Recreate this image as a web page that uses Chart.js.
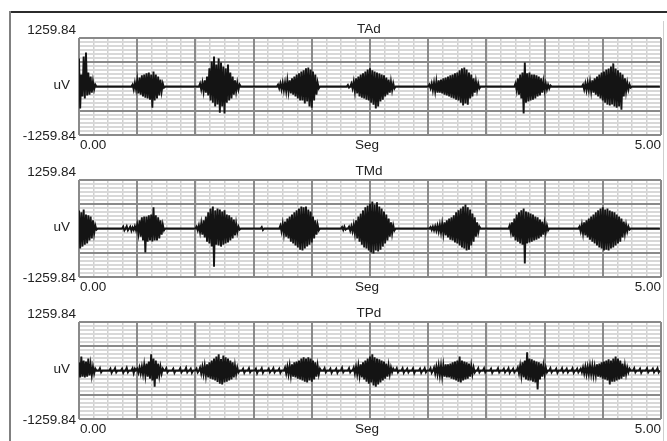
<!DOCTYPE html>
<html><head><meta charset="utf-8">
<script src="https://cdn.jsdelivr.net/npm/chart.js@4.4.1/dist/chart.umd.min.js"></script>
<style>
html,body{margin:0;padding:0;background:#fff;}
body{width:667px;height:441px;position:relative;overflow:hidden;font-family:"Liberation Sans",Arial,sans-serif;}
.lbl{position:absolute;font-size:13.5px;line-height:16px;height:16px;color:#222;white-space:nowrap;}
canvas{position:absolute;}
.frame{position:absolute;}
</style></head><body>
<div class="frame" style="left:9px;top:11px;width:658px;height:2px;background:#2b2b2b"></div>
<div class="frame" style="left:9px;top:11px;width:2px;height:430px;background:#808080"></div>
<div class="frame" style="left:663px;top:21px;width:1px;height:420px;background:#cfcfcf"></div>
<script>
// ---- data (uV, one sample every 0.01 s, 500 samples per channel) ----
const STEP = 0.01;
const panelNames = ["TAd", "TMd", "TPd"];
const yTickLabels = ["1259.84", "-1259.84"];
const xTickLabels = ["0.00", "5.00"];
const yAxisLabel = "uV";
const xAxisLabel = "Seg";
const Y_MAX = 1259.84;
const X_MIN = 0, X_MAX = 5;

const TAd = [
730,-570,310,-260,780,-310,880,-230,360,-210,
260,-160,130,-80,50,0,0,0,0,0,
0,0,0,0,0,0,0,0,0,0,
0,0,0,0,0,0,0,0,0,0,
0,0,0,0,0,0,50,-80,100,-80,
160,-180,230,-210,290,-260,310,-290,340,-310,
360,-340,310,-550,390,-360,310,-310,260,-230,
180,-130,80,-30,0,0,0,0,0,0,
0,0,0,0,0,0,0,0,0,0,
0,0,0,0,0,0,0,0,0,0,
0,0,0,0,80,-80,100,-130,160,-160,
260,-230,470,-360,650,-420,780,-520,570,-470,
730,-680,620,-520,520,-700,470,-420,570,-360,
360,-310,260,-210,160,-130,100,-80,50,0,
0,0,0,0,0,0,0,0,0,0,
0,0,0,0,0,0,0,0,0,0,
0,0,0,0,0,0,0,0,0,0,
0,50,-50,80,-80,100,-100,100,-130,160,
-130,160,-180,210,-210,260,-260,310,-310,340,
-360,390,-360,420,-440,470,-390,490,-520,440,
-550,390,-360,310,-210,100,-50,0,0,0,
0,0,0,0,0,0,0,0,0,0,
0,0,0,0,0,0,0,0,0,0,
0,40,-30,0,80,-50,130,-130,210,-180,
260,-260,310,-290,340,-310,390,-340,440,-360,
470,-420,420,-470,390,-570,360,-520,340,-390,
310,-340,290,-260,230,-210,180,-160,130,-100,
80,-50,0,0,0,0,0,0,0,0,
0,0,0,0,0,0,0,0,0,0,
0,0,0,0,0,0,0,0,0,0,
0,50,-50,80,-100,100,-130,130,-160,160,
-160,180,-180,210,-210,230,-230,260,-260,290,
-290,310,-310,340,-340,360,-360,420,-420,470,
-490,490,-440,440,-470,360,-310,310,-260,210,
-160,130,-100,80,-50,0,0,0,0,0,
0,0,0,0,0,0,0,0,0,0,
0,0,0,0,0,0,0,0,0,0,
0,0,0,0,0,80,-100,210,-210,310,
-310,360,-700,620,-420,340,-390,360,-360,310,
-340,310,-310,290,-260,260,-230,210,-160,130,
-100,80,-80,50,-50,30,0,0,0,0,
0,0,0,0,0,0,0,0,0,0,
0,0,0,0,0,0,0,0,0,0,
0,0,0,50,-80,80,-100,100,-100,130,
-130,160,-160,210,-210,260,-260,310,-310,360,
-360,390,-420,440,-470,470,-490,520,-470,600,
-520,470,-550,420,-520,360,-600,310,-260,210,
-130,100,-80,50,-30,0,0,0,0,0,
0,0,0,0,0,0,0,0,0,0,
0,0,0,0,0,0,0,0,0,0
];

const TMd = [
470,-520,420,-470,490,-420,360,-390,340,-310,
310,-260,210,-130,80,-30,0,0,0,0,
0,0,0,0,0,0,0,0,0,0,
0,0,0,0,0,0,0,0,50,-50,
0,60,-50,0,50,-60,30,-40,60,-50,
100,-130,210,-210,290,-310,310,-620,310,-340,
340,-310,360,-340,550,-310,340,-310,290,-260,
210,-160,100,-50,0,0,0,0,0,0,
0,0,0,0,0,0,0,0,0,0,
0,0,0,0,0,0,0,0,0,0,
0,50,-50,80,-100,130,-160,210,-230,310,
-340,420,-390,520,-470,570,-990,470,-420,520,
-440,490,-470,440,-420,470,-390,360,-360,340,
-310,290,-260,230,-180,130,-100,50,-30,0,
0,0,0,0,0,0,0,0,0,0,
0,0,0,0,0,0,0,40,-40,0,
0,0,0,0,0,0,0,0,0,0,
0,0,0,80,-80,130,-130,180,-210,260,
-260,310,-340,360,-390,420,-440,470,-490,520,
-550,570,-570,550,-520,570,-470,490,-420,440,
-360,310,-260,210,-160,100,-50,0,0,0,
0,0,0,0,0,0,0,0,0,0,
0,0,0,0,0,0,40,-40,50,-30,
0,0,50,-60,60,-80,100,-130,210,-260,
310,-340,390,-420,470,-490,550,-520,600,-570,
650,-620,700,-650,620,-570,680,-600,570,-550,
520,-470,440,-390,360,-310,260,-210,160,-130,
80,-50,0,0,0,0,0,0,0,0,
0,0,0,0,0,0,0,0,0,0,
0,0,0,0,0,0,0,0,0,0,
0,0,40,-40,50,-50,60,-60,80,-80,
100,-110,130,-140,160,-180,210,-230,260,-290,
290,-310,340,-360,420,-390,470,-440,520,-490,
570,-520,620,-570,550,-550,490,-440,390,-340,
290,-210,160,-100,50,0,0,0,0,0,
0,0,0,0,0,0,0,0,0,0,
0,0,0,0,0,0,0,0,0,0,
80,-100,160,-210,260,-310,360,-340,420,-390,
470,-420,520,-910,440,-390,420,-360,390,-340,
360,-310,310,-290,290,-260,230,-210,180,-160,
130,-100,80,-50,0,0,0,0,0,0,
0,0,0,0,0,0,0,0,0,0,
0,0,0,0,0,0,0,0,0,0,
50,-80,100,-130,160,-180,210,-230,260,-290,
310,-340,360,-390,420,-440,470,-490,520,-520,
550,-570,490,-550,520,-570,470,-520,440,-490,
420,-440,360,-390,310,-340,260,-230,180,-130,
100,-80,50,-30,0,0,0,0,0,0,
0,0,0,0,0,0,0,0,0,0,
0,0,0,0,0,0,0,0,0,0
];

const TPd = [
210,-180,360,-160,260,-180,230,-160,310,-130,
160,-130,100,-80,50,0,0,0,60,-50,
0,0,0,0,0,0,0,50,-60,0,
0,60,-50,0,0,0,0,50,-60,0,
0,70,-50,0,0,0,60,-70,50,0,
50,-60,80,-80,100,-100,150,-130,180,-160,
230,-210,420,-260,310,-420,260,-210,180,-130,
100,-80,50,0,0,60,-50,0,0,0,
0,50,-60,0,0,0,0,60,-50,0,
0,0,70,-50,0,0,50,-60,0,0,
0,50,-50,0,80,-80,100,-100,130,-130,
160,-180,210,-210,260,-230,310,-260,360,-300,
420,-340,300,-360,390,-310,340,-290,310,-260,
260,-230,210,-180,130,-100,80,-50,0,0,
0,50,-60,0,0,0,60,-50,0,0,
0,0,50,-70,0,0,0,60,-60,0,
0,0,0,50,-50,0,0,60,-50,0,
0,0,50,-60,0,0,0,80,-80,100,
-100,130,-130,160,-160,210,-180,230,-210,260,
-230,310,-260,340,-290,310,-310,340,-260,310,
-290,260,-230,210,-160,130,-100,50,0,0,
0,60,-50,0,0,0,50,-60,0,0,
0,50,-60,0,0,0,70,-50,0,0,
0,0,60,-50,0,0,80,-80,100,-100,
130,-130,160,-180,210,-230,260,-290,310,-340,
360,-310,420,-390,340,-420,310,-360,290,-310,
260,-260,230,-210,180,-160,130,-100,80,-50,
50,0,0,60,-50,0,0,0,60,-60,
0,0,50,-50,0,0,0,60,-70,0,
0,0,0,50,-60,0,0,60,-50,0,
0,0,60,-60,0,80,-80,100,-100,130,
-130,130,-160,130,-160,160,-180,160,-180,180,
-210,210,-230,230,-260,260,-290,360,-310,260,
-260,230,-230,210,-210,180,-160,130,-100,80,
-50,0,0,60,-50,0,0,0,60,-50,
0,0,0,0,50,-60,0,0,0,0,
60,-50,0,0,0,50,-50,0,0,60,
-60,0,0,50,-50,0,0,80,-80,130,
-130,210,-180,260,-230,470,-260,310,-260,290,
-290,260,-310,230,-490,210,-230,180,-160,130,
-100,80,-50,0,0,60,-50,0,0,0,
50,-60,0,0,0,60,-50,0,0,50,
-50,0,0,0,60,-60,0,0,50,-50,
0,50,-50,80,-80,100,-100,100,-100,130,
-100,130,-130,100,-130,160,-160,180,-180,210,
-210,230,-230,260,-260,290,-360,260,-290,310,
-290,360,-260,310,-230,260,-210,180,-160,130,
-100,80,-50,50,0,0,0,60,-50,0,
0,0,50,-60,0,0,0,0,60,-50,
0,0,0,50,-50,0,0,60,-50,0
];

const series = [TAd, TMd, TPd];

// ---- layout ----
const PLOT_L = 79, PLOT_R = 661, PLOT_H = 97, PAD = 3;
const TOPS = [38, 180, 322];

function evenTicks(min, max, n) {
  const a = [];
  for (let k = 0; k <= n; k++) a.push({ value: min + (max - min) * k / n });
  return a;
}
function gridScale(axis, min, max, n, color, width, z) {
  return {
    type: 'linear', axis: axis, min: min, max: max, display: true, z: z,
    position: axis === 'x' ? 'bottom' : 'left',
    ticks: { display: false },
    grid: { color: color, lineWidth: width, drawTicks: false },
    border: { display: false },
    afterBuildTicks: (s) => { s.ticks = evenTicks(min, max, n); }
  };
}
function addLabel(text, x, cy, align) {
  const d = document.createElement('div');
  d.className = 'lbl';
  d.textContent = text;
  d.style.top = (cy - 8) + 'px';
  if (align === 'right') d.style.right = (667 - x) + 'px';
  else if (align === 'center') { d.style.left = x + 'px'; d.style.transform = 'translateX(-50%)'; }
  else d.style.left = x + 'px';
  document.body.appendChild(d);
}

series.forEach((vals, p) => {
  const top = TOPS[p];
  const cv = document.createElement('canvas');
  const w = PLOT_R - PLOT_L + 2 * PAD, h = PLOT_H + 2 * PAD;
  cv.width = w; cv.height = h;
  cv.style.left = (PLOT_L - PAD) + 'px';
  cv.style.top = (top - PAD) + 'px';
  cv.style.width = w + 'px'; cv.style.height = h + 'px';
  document.body.appendChild(cv);

  new Chart(cv, {
    type: 'line',
    data: {
      datasets: [{
        data: vals.map((v, i) => ({ x: i * STEP, y: v })),
        xAxisID: 'x', yAxisID: 'y',
        borderColor: '#141414', borderWidth: 1.9,
        pointRadius: 0, tension: 0, fill: false
      }]
    },
    options: {
      responsive: false, animation: false, devicePixelRatio: 1,
      parsing: false, normalized: true,
      layout: { padding: PAD },
      plugins: { legend: { display: false }, tooltip: { enabled: false }, title: { display: false } },
      events: [],
      scales: {
        xMinor: gridScale('x', X_MIN, X_MAX, 40, '#d0d0d0', 1.5, -1),
        yMinor: gridScale('y', -Y_MAX, Y_MAX, 24, '#d8d8d8', 2, -1),
        x: gridScale('x', X_MIN, X_MAX, 10, '#8a8a8a', 2, 0),
        y: gridScale('y', -Y_MAX, Y_MAX, 4, '#8a8a8a', 2, 0)
      }
    }
  });

  const bottom = top + PLOT_H;
  addLabel(panelNames[p], 369, top - 9, 'center');
  addLabel(yTickLabels[0], 76, top - 8, 'right');
  addLabel(yAxisLabel, 70, top + PLOT_H / 2 - 2, 'right');
  addLabel(yTickLabels[1], 76, bottom + 1, 'right');
  addLabel(xTickLabels[0], 80, bottom + 10, 'left');
  addLabel(xAxisLabel, 367, bottom + 10, 'center');
  addLabel(xTickLabels[1], 661, bottom + 10, 'right');
});
</script>
</body></html>
